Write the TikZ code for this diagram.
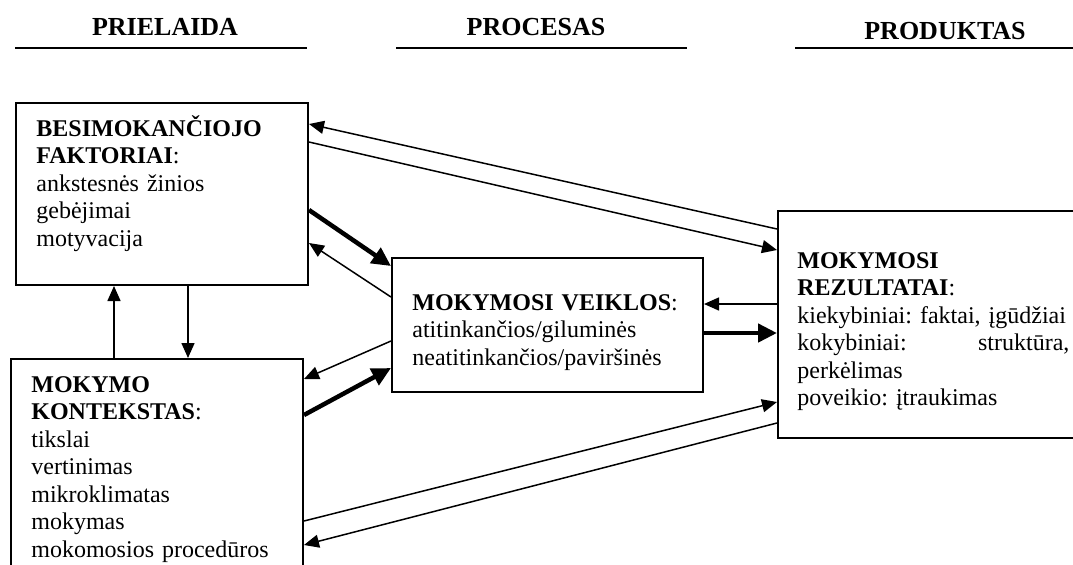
\documentclass[tikz,border=0pt]{standalone}
\usepackage{fontspec}
\setmainfont{Liberation Serif}
\usetikzlibrary{arrows.meta}
\frenchspacing

\begin{document}
\begin{tikzpicture}[x=0.5pt,y=-0.5pt,
		box/.style={draw,line width=1pt,inner sep=0pt,anchor=north west},
		boxtext/.style={anchor=base west,inner sep=0pt,align=left,font=\fontsize{12pt}{13.75pt}\selectfont},
		heading/.style={anchor=base,inner sep=0pt,font=\fontsize{13pt}{15pt}\selectfont\bfseries},
		flow/.style={-{Triangle[length=7.5pt,width=6.5pt]},line width=0.75pt},
		mainflow/.style={-{Triangle[length=9.5pt,width=9pt]},line width=2.25pt}]
		\useasboundingbox (0,0) rectangle (1073,564);

		\node[heading] (prielaida) at (165,35) {PRIELAIDA};
		\node[heading] (procesas) at (536,35) {PROCESAS};
		\node[heading] (produktas) at (945,39) {PRODUKTAS};
		\draw[line width=1pt] (15,48) -- (307,48);
		\draw[line width=1pt] (396,48) -- (687,48);
		\draw[line width=1pt] (795,48) -- (1073,48);

		\node[box,minimum width=146pt,minimum height=91pt] (faktoriai) at (15,102) {};
		\node[box,minimum width=146pt,minimum height=141pt] (kontekstas) at (10,358) {};
		\node[box,minimum width=155.5pt,minimum height=67pt] (veiklos) at (391,257) {};
		\node[box,minimum width=166.5pt,minimum height=113.5pt] (rezultatai) at (777,210) {};

		\node[boxtext,text width=135pt] (faktoriai-text) at (36,136) {\textbf{BESIMOKANČIOJO}\\\textbf{FAKTORIAI}:\\ankstesnės žinios\\gebėjimai\\motyvacija};
		\node[boxtext,text width=135pt] (kontekstas-text) at (31,392) {\textbf{MOKYMO}\\\textbf{KONTEKSTAS}:\\tikslai\\vertinimas\\mikroklimatas\\mokymas\\mokomosios procedūros};
		\node[boxtext,text width=140pt] (veiklos-text) at (412,310) {\textbf{MOKYMOSI VEIKLOS}:\\atitinkančios/giluminės\\neatitinkančios/paviršinės};
		\node[boxtext,text width=136pt] (rezultatai-text) at (797,268) {\textbf{MOKYMOSI}\\\textbf{REZULTATAI}:\\\mbox{kiekybiniai: faktai, įgūdžiai}\\kokybiniai: \hfill struktūra,\\perkėlimas\\poveikio: įtraukimas};

		\draw[flow] (rezultatai.west |- 0,229) -- (faktoriai.east |- 0,124);
		\draw[flow] (faktoriai.east |- 0,142) -- (rezultatai.west |- 0,250);
		\draw[mainflow] (faktoriai.east |- 0,210) -- (veiklos.west |- 0,266);
		\draw[flow] (veiklos.west |- 0,297) -- (faktoriai.east |- 0,243);
		\draw[flow] (kontekstas.north -| 114,0) -- (faktoriai.south -| 114,0);
		\draw[flow] (faktoriai.south -| 188,0) -- (kontekstas.north -| 188,0);
		\draw[flow] (veiklos.west |- 0,341) -- (kontekstas.east |- 0,379);
		\draw[mainflow] (kontekstas.east |- 0,415) -- (veiklos.west |- 0,368);
		\draw[flow] (rezultatai.west |- 0,304) -- (veiklos.east |- 0,304);
		\draw[mainflow] (veiklos.east |- 0,333) -- (rezultatai.west |- 0,333);
		\draw[flow] (kontekstas.east |- 0,521) -- (rezultatai.west |- 0,402);
		\draw[flow] (rezultatai.west |- 0,423) -- (kontekstas.east |- 0,545);
	\end{tikzpicture}
\end{document}
